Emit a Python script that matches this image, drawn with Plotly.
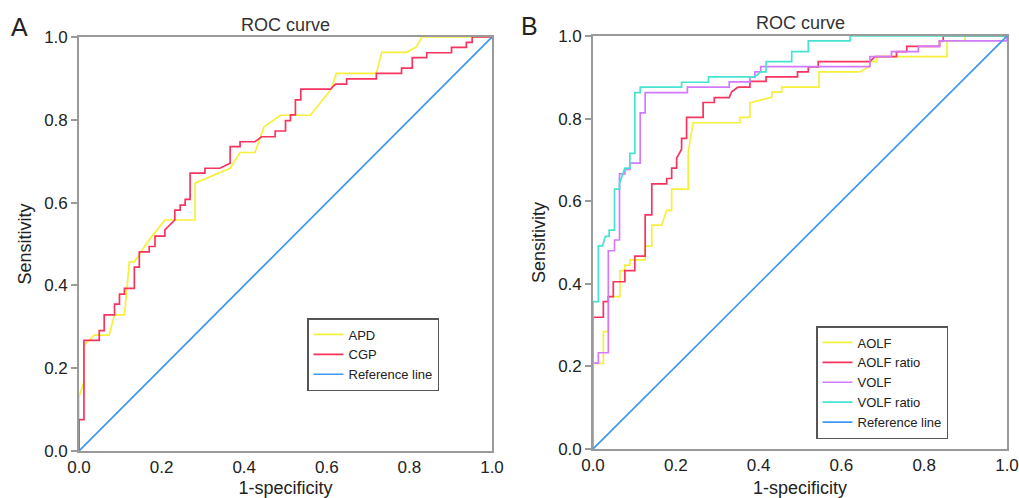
import plotly.graph_objects as go

# ---------------- data (ROC vertices: (1-specificity, sensitivity)) ----------------
apd_points = [(0, 0), (0, 0.131), (0.012, 0.167), (0.012, 0.256), (0.037, 0.280), (0.073, 0.280),
              (0.086, 0.329), (0.110, 0.329), (0.122, 0.457), (0.134, 0.457), (0.170, 0.510),
              (0.208, 0.558), (0.281, 0.558), (0.281, 0.647), (0.366, 0.683), (0.390, 0.721),
              (0.426, 0.721), (0.448, 0.783), (0.488, 0.811), (0.560, 0.811), (0.611, 0.874),
              (0.623, 0.912), (0.720, 0.912), (0.733, 0.963), (0.793, 0.963), (0.817, 0.976),
              (0.830, 1.0), (1.0, 1.0)]

cgp_points = [(0, 0), (0, 0.076), (0.012, 0.076), (0.012, 0.267), (0.049, 0.267), (0.049, 0.291),
              (0.061, 0.291), (0.061, 0.329), (0.086, 0.329), (0.086, 0.355), (0.098, 0.355),
              (0.098, 0.379), (0.110, 0.379), (0.110, 0.393), (0.134, 0.393), (0.134, 0.444),
              (0.146, 0.444), (0.146, 0.481), (0.170, 0.481), (0.170, 0.494), (0.184, 0.494),
              (0.184, 0.519), (0.208, 0.519), (0.208, 0.534), (0.232, 0.558), (0.232, 0.582),
              (0.245, 0.582), (0.245, 0.594), (0.257, 0.594), (0.257, 0.608), (0.269, 0.608),
              (0.269, 0.671), (0.305, 0.671), (0.305, 0.683), (0.341, 0.683), (0.366, 0.695),
              (0.366, 0.735), (0.390, 0.735), (0.390, 0.747), (0.426, 0.747), (0.442, 0.759),
              (0.475, 0.759), (0.475, 0.773), (0.500, 0.773), (0.500, 0.798), (0.512, 0.798),
              (0.512, 0.812), (0.524, 0.812), (0.524, 0.848), (0.537, 0.848), (0.537, 0.874),
              (0.609, 0.874), (0.621, 0.886), (0.648, 0.886), (0.648, 0.899), (0.720, 0.899),
              (0.720, 0.912), (0.781, 0.912), (0.781, 0.925), (0.807, 0.925), (0.807, 0.950),
              (0.842, 0.950), (0.842, 0.962), (0.902, 0.962), (0.902, 0.975), (0.938, 0.975),
              (0.938, 0.987), (0.952, 0.987), (0.952, 1.0), (1.0, 1.0)]

aolf_points = [(0, 0), (0, 0.207), (0.025, 0.207), (0.025, 0.284), (0.037, 0.284), (0.037, 0.369),
               (0.065, 0.369), (0.065, 0.432), (0.077, 0.432), (0.077, 0.445), (0.089, 0.445),
               (0.089, 0.458), (0.126, 0.458), (0.126, 0.491), (0.142, 0.491), (0.142, 0.542),
               (0.166, 0.542), (0.178, 0.578), (0.190, 0.578), (0.190, 0.629), (0.230, 0.629),
               (0.230, 0.720), (0.242, 0.790), (0.355, 0.790), (0.355, 0.803), (0.379, 0.803),
               (0.379, 0.838), (0.432, 0.852), (0.432, 0.864), (0.456, 0.864), (0.456, 0.876),
               (0.546, 0.876), (0.546, 0.913), (0.645, 0.913), (0.669, 0.927), (0.669, 0.938),
               (0.685, 0.938), (0.685, 0.950), (0.855, 0.950), (0.855, 0.988), (0.899, 0.988),
               (0.899, 1.0), (1.0, 1.0)]

aolf_ratio_points = [(0, 0), (0, 0.319), (0.025, 0.319), (0.025, 0.357), (0.037, 0.357), (0.037, 0.369),
                     (0.049, 0.369), (0.049, 0.405), (0.077, 0.405), (0.077, 0.432), (0.101, 0.432),
                     (0.101, 0.467), (0.126, 0.467), (0.126, 0.567), (0.142, 0.567), (0.142, 0.642),
                     (0.178, 0.642), (0.178, 0.655), (0.190, 0.655), (0.190, 0.680), (0.202, 0.680),
                     (0.202, 0.704), (0.214, 0.726), (0.214, 0.752), (0.226, 0.752), (0.226, 0.803),
                     (0.266, 0.803), (0.266, 0.839), (0.293, 0.839), (0.293, 0.851), (0.329, 0.851),
                     (0.335, 0.865), (0.350, 0.876), (0.379, 0.876), (0.379, 0.890), (0.418, 0.890),
                     (0.418, 0.901), (0.494, 0.901), (0.494, 0.913), (0.520, 0.913), (0.520, 0.925),
                     (0.544, 0.925), (0.544, 0.938), (0.669, 0.938), (0.681, 0.950), (0.733, 0.950),
                     (0.733, 0.962), (0.758, 0.962), (0.758, 0.975), (0.837, 0.975), (0.837, 0.988),
                     (0.846, 0.988), (0.846, 1.0), (1.0, 1.0)]

volf_points = [(0, 0), (0, 0.208), (0.013, 0.208), (0.013, 0.233), (0.037, 0.233), (0.037, 0.480),
               (0.052, 0.480), (0.052, 0.506), (0.064, 0.506), (0.064, 0.666), (0.077, 0.666),
               (0.077, 0.677), (0.089, 0.677), (0.089, 0.692), (0.114, 0.692), (0.114, 0.814),
               (0.126, 0.814), (0.126, 0.863), (0.228, 0.863), (0.228, 0.876), (0.329, 0.876),
               (0.329, 0.889), (0.379, 0.889), (0.379, 0.901), (0.391, 0.901), (0.391, 0.913),
               (0.405, 0.913), (0.405, 0.926), (0.669, 0.926), (0.669, 0.950), (0.721, 0.950),
               (0.721, 0.962), (0.786, 0.962), (0.786, 0.975), (0.837, 0.975), (0.837, 0.988),
               (1.0, 0.988), (1.0, 1.0)]

volf_ratio_points = [(0, 0), (0, 0.357), (0.013, 0.357), (0.013, 0.492), (0.023, 0.492), (0.030, 0.515),
                     (0.039, 0.515), (0.039, 0.530), (0.052, 0.530), (0.052, 0.629), (0.064, 0.629),
                     (0.064, 0.643), (0.077, 0.680), (0.089, 0.680), (0.089, 0.716), (0.101, 0.716),
                     (0.101, 0.863), (0.114, 0.863), (0.114, 0.876), (0.214, 0.876), (0.214, 0.888),
                     (0.279, 0.888), (0.279, 0.901), (0.391, 0.901), (0.405, 0.913), (0.418, 0.913),
                     (0.418, 0.938), (0.480, 0.938), (0.480, 0.962), (0.520, 0.962), (0.520, 0.988),
                     (0.621, 0.988), (0.621, 1.0), (1.0, 1.0)]

reference_points = [(0, 0), (1, 1)]

tick_vals = [0.0, 0.2, 0.4, 0.6, 0.8, 1.0]
tick_text = ["0.0", "0.2", "0.4", "0.6", "0.8", "1.0"]

panel_a_series = [("APD", apd_points, "#f6f03a"),
                  ("CGP", cgp_points, "#f5345f"),
                  ("Reference line", reference_points, "#3f97f0")]
panel_b_series = [("AOLF", aolf_points, "#f6f03a"),
                  ("AOLF ratio", aolf_ratio_points, "#f5345f"),
                  ("VOLF", volf_points, "#d27aff"),
                  ("VOLF ratio", volf_ratio_points, "#45e3d2"),
                  ("Reference line", reference_points, "#3f97f0")]

# ---------------- figure ----------------
W, H = 1019, 498
FONT = "Liberation Sans, Arial, Helvetica, sans-serif"
fig = go.Figure()

for name, pts, col in panel_a_series:
    xs, ys = zip(*pts)
    fig.add_trace(go.Scatter(x=xs, y=ys, mode="lines", name=name,
                             line=dict(color=col, width=1.7), xaxis="x", yaxis="y",
                             legend="legend", hoverinfo="skip"))
for name, pts, col in panel_b_series:
    xs, ys = zip(*pts)
    fig.add_trace(go.Scatter(x=xs, y=ys, mode="lines", name=name,
                             line=dict(color=col, width=1.7), xaxis="x2", yaxis="y2",
                             legend="legend2", hoverinfo="skip"))

def px_x(p):
    return p / W

def px_y(p):
    return 1 - p / H

axis_common = dict(range=[0, 1], tickvals=tick_vals, ticktext=tick_text,
                   showgrid=False, zeroline=False, showline=True, mirror=True,
                   linecolor="#9a9a9a", linewidth=1.6, automargin=False,
                   tickfont=dict(family=FONT, size=17, color="#222222"),
                   fixedrange=True)

legend_common = dict(xanchor="left", yanchor="top", bgcolor="white",
                     bordercolor="#555555", borderwidth=1.5,
                     font=dict(family=FONT, size=13, color="#222222"), tracegroupgap=0)

fig.update_layout(
    width=W, height=H,
    margin=dict(l=0, r=0, t=0, b=0, autoexpand=False),
    paper_bgcolor="white", plot_bgcolor="white",
    font=dict(family=FONT, color="#222222"),
    xaxis=dict(domain=[px_x(79), px_x(492)], anchor="y", ticks="", ticklen=0,
               title=dict(text="1-specificity", font=dict(size=18), standoff=7), **axis_common),
    yaxis=dict(domain=[px_y(451), px_y(37)], anchor="x", ticks="outside", ticklen=6,
               tickcolor="#9a9a9a", tickwidth=1.5,
               title=dict(text="Sensitivity", font=dict(size=18), standoff=8), **axis_common),
    xaxis2=dict(domain=[px_x(593), px_x(1007)], anchor="y2", ticks="", ticklen=0,
                title=dict(text="1-specificity", font=dict(size=18), standoff=7), **axis_common),
    yaxis2=dict(domain=[px_y(449), px_y(36)], anchor="x2", ticks="outside", ticklen=6,
                tickcolor="#9a9a9a", tickwidth=1.5,
                title=dict(text="Sensitivity", font=dict(size=18), standoff=8), **axis_common),
    legend=dict(x=px_x(307), y=px_y(318), **legend_common),
    legend2=dict(x=px_x(816), y=px_y(326), **legend_common),
    annotations=[
        dict(text="ROC curve", x=px_x(285.5), y=px_y(25), xref="paper", yref="paper",
             showarrow=False, xanchor="center", yanchor="middle",
             font=dict(family=FONT, size=18, color="#333333")),
        dict(text="ROC curve", x=px_x(800), y=px_y(23), xref="paper", yref="paper",
             showarrow=False, xanchor="center", yanchor="middle",
             font=dict(family=FONT, size=18, color="#333333")),
        dict(text="A", x=px_x(19), y=px_y(27), xref="paper", yref="paper",
             showarrow=False, xanchor="center", yanchor="middle",
             font=dict(family=FONT, size=25, color="#222222")),
        dict(text="B", x=px_x(529), y=px_y(26), xref="paper", yref="paper",
             showarrow=False, xanchor="center", yanchor="middle",
             font=dict(family=FONT, size=25, color="#222222")),
    ],
)

fig.write_html("out.html", config={"displayModeBar": False},
               post_script="document.body.style.margin='0';document.body.style.padding='0';")
